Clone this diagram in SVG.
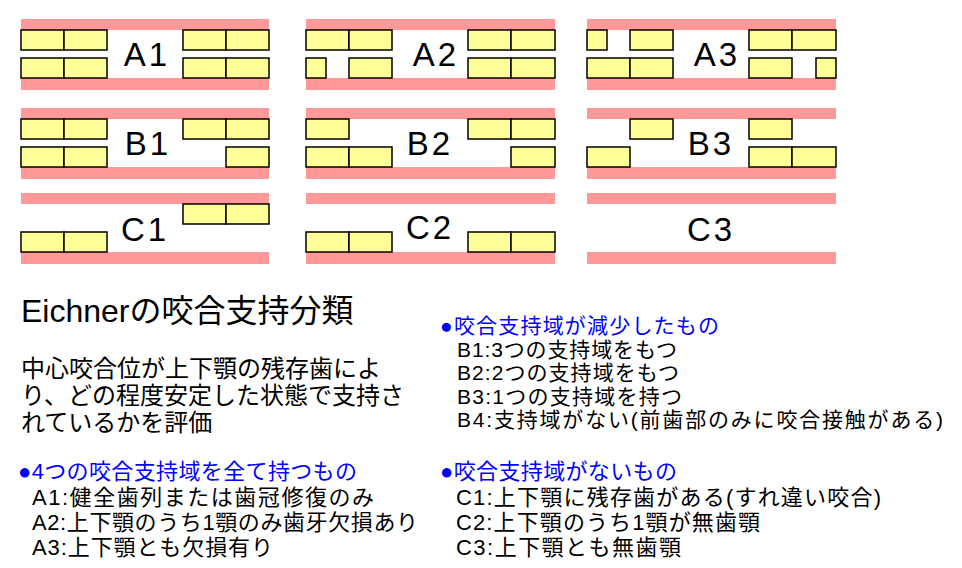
<svg xmlns="http://www.w3.org/2000/svg" width="962" height="568" viewBox="0 0 962 568">
<style>
.gum{fill:#ff9999}
.t{fill:#ffff99;stroke:#000;stroke-width:1.5}
.lbl{font-family:"Liberation Sans","Noto Sans CJK JP",sans-serif;font-size:33px;fill:#000;text-anchor:middle;letter-spacing:3px}
.jp{font-family:"Liberation Sans","Noto Sans CJK JP",sans-serif;fill:#000}
.h{fill:#0000ff}
</style>
<rect width="962" height="568" fill="#fff"/>
<g id="A1">
<rect class="gum" x="21" y="19" width="248" height="11"/><rect class="gum" x="21" y="78" width="248" height="12"/>
<rect class="t" x="21" y="30" width="43" height="20"/><rect class="t" x="64" y="30" width="43" height="20"/><rect class="t" x="183" y="30" width="43" height="20"/><rect class="t" x="226" y="30" width="43" height="20"/>
<rect class="t" x="21" y="58" width="43" height="20"/><rect class="t" x="64" y="58" width="43" height="20"/><rect class="t" x="183" y="58" width="43" height="20"/><rect class="t" x="226" y="58" width="43" height="20"/>
<text class="lbl" x="147" y="66">A1</text>
</g>
<g id="A2">
<rect class="gum" x="306" y="19" width="249" height="11"/><rect class="gum" x="306" y="78" width="249" height="12"/>
<rect class="t" x="306" y="30" width="43" height="20"/><rect class="t" x="349" y="30" width="43" height="20"/><rect class="t" x="468" y="30" width="43" height="20"/><rect class="t" x="511" y="30" width="44" height="20"/>
<rect class="t" x="306" y="58" width="20" height="20"/><rect class="t" x="349" y="58" width="43" height="20"/><rect class="t" x="468" y="58" width="43" height="20"/><rect class="t" x="511" y="58" width="44" height="20"/>
<text class="lbl" x="436" y="66">A2</text>
</g>
<g id="A3">
<rect class="gum" x="587" y="19" width="249" height="11"/><rect class="gum" x="587" y="78" width="249" height="12"/>
<rect class="t" x="587" y="30" width="20" height="20"/><rect class="t" x="630" y="30" width="43" height="20"/><rect class="t" x="749" y="30" width="43" height="20"/><rect class="t" x="792" y="30" width="44" height="20"/>
<rect class="t" x="587" y="58" width="43" height="20"/><rect class="t" x="630" y="58" width="43" height="20"/><rect class="t" x="749" y="58" width="43" height="20"/><rect class="t" x="816" y="58" width="20" height="20"/>
<text class="lbl" x="717" y="66">A3</text>
</g>
<g id="B1">
<rect class="gum" x="21" y="108" width="248" height="11"/><rect class="gum" x="21" y="167" width="248" height="12"/>
<rect class="t" x="21" y="119" width="43" height="20"/><rect class="t" x="64" y="119" width="43" height="20"/><rect class="t" x="183" y="119" width="43" height="20"/><rect class="t" x="226" y="119" width="43" height="20"/>
<rect class="t" x="21" y="147" width="43" height="20"/><rect class="t" x="64" y="147" width="43" height="20"/><rect class="t" x="226" y="147" width="43" height="20"/>
<text class="lbl" x="148" y="155">B1</text>
</g>
<g id="B2">
<rect class="gum" x="306" y="108" width="249" height="11"/><rect class="gum" x="306" y="167" width="249" height="12"/>
<rect class="t" x="306" y="119" width="43" height="20"/><rect class="t" x="468" y="119" width="43" height="20"/><rect class="t" x="511" y="119" width="44" height="20"/>
<rect class="t" x="306" y="147" width="43" height="20"/><rect class="t" x="349" y="147" width="43" height="20"/><rect class="t" x="511" y="147" width="44" height="20"/>
<text class="lbl" x="430" y="155">B2</text>
</g>
<g id="B3">
<rect class="gum" x="587" y="108" width="249" height="11"/><rect class="gum" x="587" y="167" width="249" height="12"/>
<rect class="t" x="630" y="119" width="43" height="20"/><rect class="t" x="749" y="119" width="43" height="20"/>
<rect class="t" x="587" y="147" width="43" height="20"/><rect class="t" x="749" y="147" width="43" height="20"/><rect class="t" x="792" y="147" width="44" height="20"/>
<text class="lbl" x="711" y="155">B3</text>
</g>
<g id="C1">
<rect class="gum" x="21" y="193" width="248" height="11"/><rect class="gum" x="21" y="252" width="248" height="12"/>
<rect class="t" x="183" y="204" width="43" height="20"/><rect class="t" x="226" y="204" width="43" height="20"/>
<rect class="t" x="21" y="232" width="43" height="20"/><rect class="t" x="64" y="232" width="43" height="20"/>
<text class="lbl" x="145" y="241">C1</text>
</g>
<g id="C2">
<rect class="gum" x="306" y="193" width="249" height="11"/><rect class="gum" x="306" y="252" width="249" height="12"/>
<rect class="t" x="306" y="232" width="43" height="20"/><rect class="t" x="349" y="232" width="43" height="20"/><rect class="t" x="468" y="232" width="43" height="20"/><rect class="t" x="511" y="232" width="44" height="20"/>
<text class="lbl" x="430" y="239">C2</text>
</g>
<g id="C3">
<rect class="gum" x="587" y="193" width="249" height="11"/><rect class="gum" x="587" y="252" width="249" height="12"/>
<text class="lbl" x="711" y="241">C3</text>
</g>
<g id="connectors"/>
<g id="title">
<text class="jp" x="21" y="322" font-size="32">Eichnerの咬合支持分類</text>
</g>
<g id="description" font-size="24">
<text class="jp" x="21" y="377">中心咬合位が上下顎の残存歯によ</text>
<text class="jp" x="21" y="404">り、どの程度安定した状態で支持さ</text>
<text class="jp" x="21" y="431">れているかを評価</text>
</g>
<g id="groupB" font-size="21">
<text class="jp h" x="440" y="333" textLength="279" lengthAdjust="spacing">●咬合支持域が減少したもの</text>
<text class="jp" x="457" y="356.5" textLength="220" lengthAdjust="spacing">B1:3つの支持域をもつ</text>
<text class="jp" x="457" y="380" textLength="222" lengthAdjust="spacing">B2:2つの支持域をもつ</text>
<text class="jp" x="457" y="403.5" textLength="225" lengthAdjust="spacing">B3:1つの支持域を持つ</text>
<text class="jp" x="457" y="427" textLength="486" lengthAdjust="spacing">B4:支持域がない(前歯部のみに咬合接触がある)</text>
</g>
<g id="groupA" font-size="22">
<text class="jp h" x="18" y="479" textLength="339" lengthAdjust="spacing">●4つの咬合支持域を全て持つもの</text>
<text class="jp" x="32" y="505" textLength="342" lengthAdjust="spacing">A1:健全歯列または歯冠修復のみ</text>
<text class="jp" x="32" y="530" textLength="386" lengthAdjust="spacing">A2:上下顎のうち1顎のみ歯牙欠損あり</text>
<text class="jp" x="32" y="555" textLength="241" lengthAdjust="spacing">A3:上下顎とも欠損有り</text>
</g>
<g id="groupC" font-size="22">
<text class="jp h" x="440" y="479" textLength="237" lengthAdjust="spacing">●咬合支持域がないもの</text>
<text class="jp" x="456" y="505" textLength="425" lengthAdjust="spacing">C1:上下顎に残存歯がある(すれ違い咬合)</text>
<text class="jp" x="456" y="530" textLength="304" lengthAdjust="spacing">C2:上下顎のうち1顎が無歯顎</text>
<text class="jp" x="456" y="555" textLength="225" lengthAdjust="spacing">C3:上下顎とも無歯顎</text>
</g>
</svg>
